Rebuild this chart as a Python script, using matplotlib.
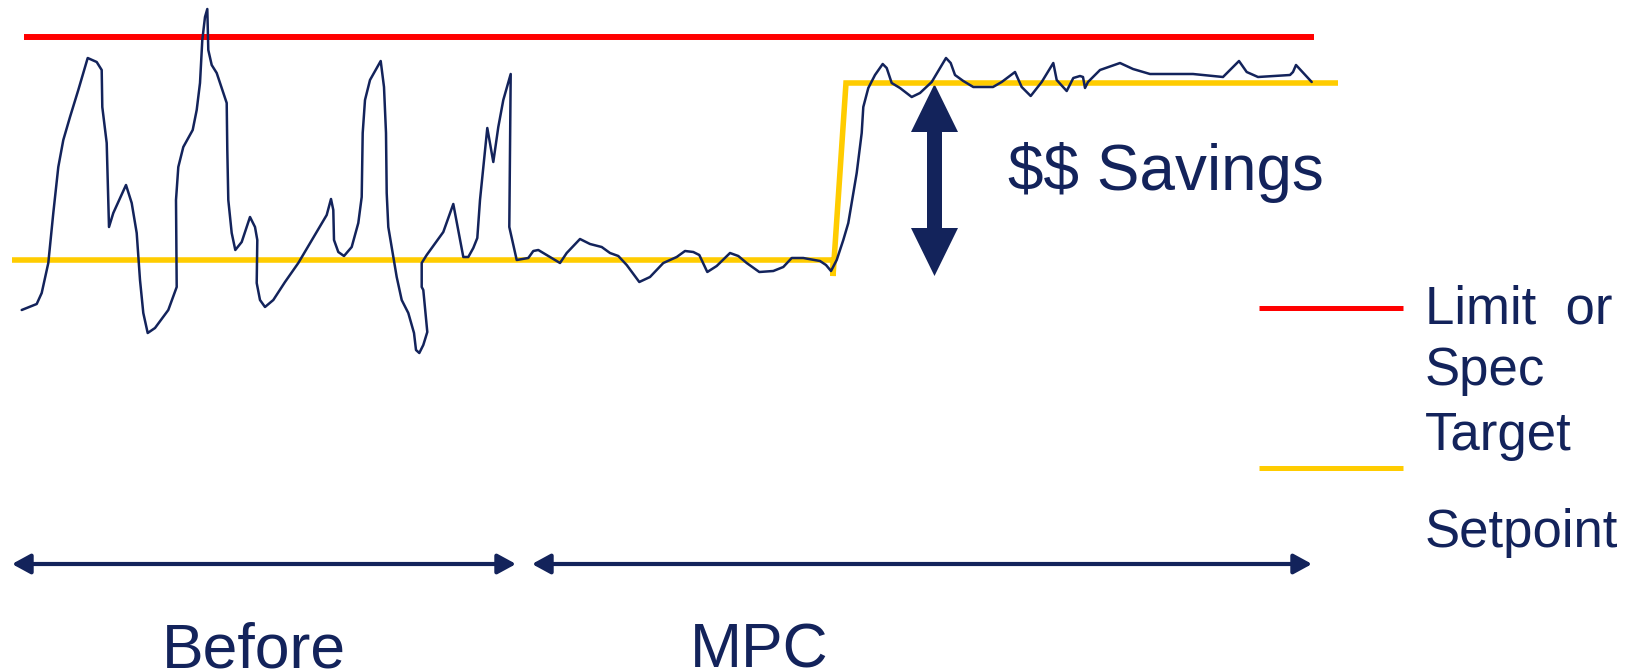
import matplotlib.pyplot as plt
from matplotlib.patches import Polygon

NAVY = '#13235b'
RED = '#ff0000'
GOLD = '#ffcc00'

plt.rcParams['font.family'] = ['Liberation Sans', 'DejaVu Sans']

# process value trace (time, value) -- value axis runs downward
pv_t = [21.7, 36.7, 41.7, 48.3, 53.3, 58.3, 63.3, 70, 78.3, 87.7, 96.7, 101.7, 102.3, 106.7, 109,
        113.3, 126, 131.7, 136.7, 140, 143.3, 147.7, 155, 168.3, 176.7, 176, 178.3, 183.3, 192.7,
        196.7, 200, 202.3, 205, 207.3, 208.3, 211.7, 216.7, 226.7, 227.3, 228.3, 231.7, 235.3,
        241.7, 250, 255, 257.3, 256.7, 260, 265, 273.3, 285, 298.3, 326.7, 331, 333.3, 334, 338.3,
        344, 351.7, 358.3, 361.7, 362.7, 365, 370, 380.7, 384, 386, 386.7, 388.3, 393.3, 396.7,
        401.7, 408.3, 414, 416, 419.3, 423.3, 427.3, 423.3, 421.7, 421.7, 426.7, 443.3, 453.3,
        463.3, 468.3, 473.3, 477.3, 480, 487.3, 493.3, 498.3, 503.3, 510.7, 509.3, 516.7, 528.3,
        533.3, 538.3, 550, 560, 566.7, 580, 590, 601.7, 610, 618.3, 626.7, 639.3, 650, 663.3,
        676.7, 685, 693.3, 699.3, 707.3, 716.7, 730, 738.3, 746.7, 759.3, 773.3, 783.3, 791.7,
        803.3, 820, 826, 831, 836.7, 843.3, 848.3, 856.7, 861.7, 863.3, 868.3, 875, 882.7, 886.7,
        891.7, 900, 911.7, 920, 931.7, 940, 946, 950.7, 955, 963.3, 973.3, 993, 1001.7, 1015,
        1021.7, 1030.7, 1041.7, 1053.3, 1056.7, 1066.7, 1073.3, 1080, 1083, 1085, 1088, 1100,
        1120, 1133, 1150, 1193, 1223, 1239, 1246.7, 1258, 1290, 1293, 1296, 1311.7]
pv_y = [310, 304, 293, 263, 213, 167, 140, 117, 90, 58, 62, 70, 107, 143, 227,
        213, 185, 203, 233, 280, 313, 333, 328, 310, 287, 200, 167, 147, 130,
        110, 83, 40, 17, 9, 50, 65, 73, 103, 150, 200, 233, 250,
        242, 217, 227, 240, 283, 300, 307, 300, 282, 263, 215, 199, 210, 240, 252,
        256, 247, 223, 197, 133, 100, 80, 61, 87, 133, 193, 227, 257, 277,
        300, 313, 333, 350, 353, 345, 332, 290, 287, 263, 255, 232, 204,
        257, 257, 248, 238, 200, 128, 162, 127, 100, 74, 227, 260, 258,
        251, 250, 257, 263, 253, 239, 244, 247, 253, 256, 265, 282, 277, 263,
        257, 251, 252, 255, 272, 266, 253, 256, 263, 272, 271, 267, 258,
        258, 261, 265, 271, 260, 240, 223, 173, 133, 107, 88, 75, 64, 68,
        83, 88, 97, 93, 82, 68, 58, 63, 75, 81, 87, 87, 82, 72,
        87, 96, 82, 63, 80, 91, 78, 76, 77, 88, 82, 70,
        63, 69, 74, 74, 77, 61, 72, 77, 75, 72, 65, 82]

limit_t = [24, 1314]
limit_y = [36.5, 36.5]

sp_t = [12, 833, 833, 846, 1338]
sp_y = [260, 260, 276, 83, 83]

# "$$ Savings" double arrow: centre, tips, head bases, half widths
sav_x = 934.5
sav_top, sav_bot = 84, 276
sav_head = 48
sav_head_hw, sav_shaft_hw = 23.5, 7.5

# period spans along the bottom
periods = ['Before', 'MPC']
period_span = [(12, 516), (532, 1312)]
period_label_x = [162, 690]

legend_text = ['Limit  or', 'Spec', 'Target', 'Setpoint']
legend_text_y = [323, 385, 450, 547]

fig = plt.figure(figsize=(16.35, 6.72), dpi=100)
ax = fig.add_axes([0, 0, 1, 1])
ax.set_xlim(0, 1635)
ax.set_ylim(672, 0)
ax.axis('off')

ax.plot(limit_t, limit_y, color=RED, lw=4.3, solid_capstyle='butt')
ax.plot(sp_t, sp_y, color=GOLD, lw=4.0, solid_capstyle='butt', solid_joinstyle='miter')
ax.plot(pv_t, pv_y, color=NAVY, lw=1.8, solid_joinstyle='round', solid_capstyle='round')

# big double headed arrow
arrow = [
    (sav_x, sav_top),
    (sav_x + sav_head_hw, sav_top + sav_head),
    (sav_x + sav_shaft_hw, sav_top + sav_head),
    (sav_x + sav_shaft_hw, sav_bot - sav_head),
    (sav_x + sav_head_hw, sav_bot - sav_head),
    (sav_x, sav_bot),
    (sav_x - sav_head_hw, sav_bot - sav_head),
    (sav_x - sav_shaft_hw, sav_bot - sav_head),
    (sav_x - sav_shaft_hw, sav_top + sav_head),
    (sav_x - sav_head_hw, sav_top + sav_head),
]
ax.add_patch(Polygon(arrow, closed=True, color=NAVY, lw=0))
ax.text(1008, 190, '$$ Savings', fontsize=46, color=NAVY, va='baseline',
        ha='left', parse_math=False)

# legend drawn by hand on the right
ax.plot([1259, 1403], [308, 308], color=RED, lw=3.6, solid_capstyle='butt')
ax.plot([1259, 1403], [468, 468], color=GOLD, lw=3.6, solid_capstyle='butt')
for txt, yy in zip(legend_text, legend_text_y):
    ax.text(1425, yy, txt, fontsize=38, color=NAVY, va='baseline', ha='left')

for name, (x0, x1), lx in zip(periods, period_span, period_label_x):
    ax.annotate('', xy=(x1, 564), xytext=(x0, 564),
                arrowprops=dict(arrowstyle='<|-|>,head_length=1.1,head_width=0.6',
                                mutation_scale=10, color=NAVY, lw=3,
                                shrinkA=0, shrinkB=0))
    ax.text(lx, 667, name, fontsize=45, color=NAVY, va='baseline', ha='left')

fig.savefig('out.png', dpi=100)
